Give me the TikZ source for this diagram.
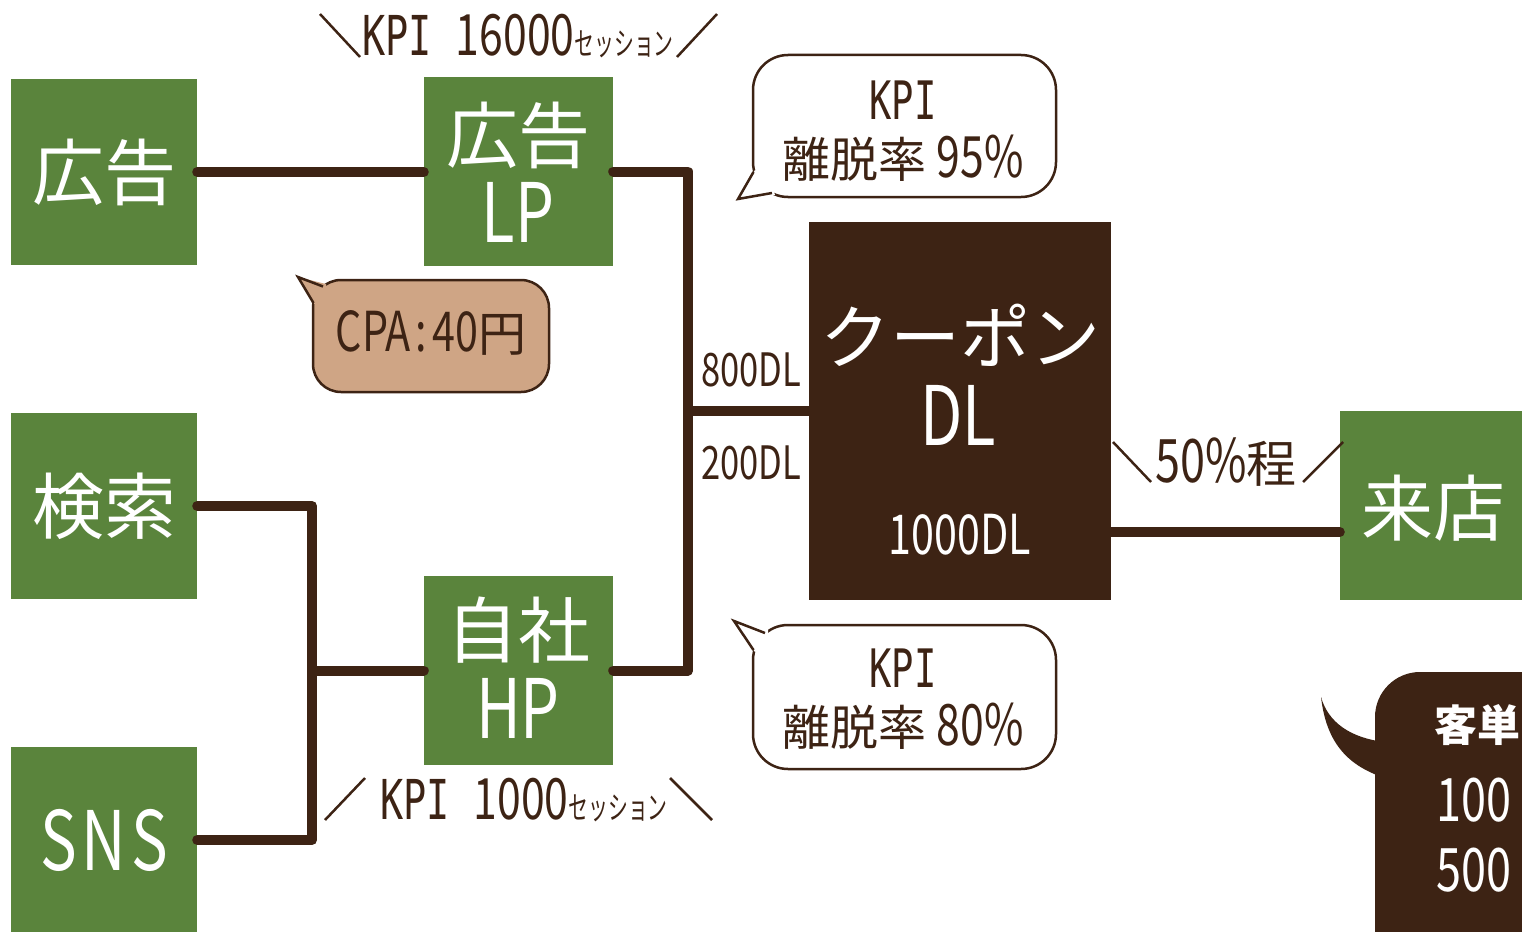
\documentclass[tikz,border=0pt]{standalone}
\usepackage{fontspec}
\setmainfont{Noto Sans CJK JP}
\newfontfamily\jp{Noto Sans CJK JP}
\newfontfamily\cond[FakeStretch=0.75]{Noto Sans CJK JP}
\newfontfamily\condk[FakeStretch=0.62]{Noto Sans CJK JP}
\newfontfamily\kpif[FakeStretch=0.7]{DejaVu Sans Mono}
\definecolor{grn}{HTML}{5A843C}
\definecolor{brn}{HTML}{3D2314}
\definecolor{tan}{HTML}{CFA585}
\newcommand{\fs}[1]{\fontsize{#1}{#1}\selectfont}
\tikzset{
  gbox/.style={fill=grn, inner sep=0pt, minimum width=186pt, minimum height=186pt},
  conn/.style={draw=brn, line width=10pt, line cap=round, line join=round},
  wtxt/.style={text=white, inner sep=0pt, anchor=center},
  btxt/.style={text=brn, inner sep=0pt, anchor=center},
  slash/.style={draw=brn, line width=2.5pt},
  bubble/.style={draw=brn, line width=2.5pt, fill=white, rounded corners=35pt},
}
\begin{document}
\begin{tikzpicture}[x=1pt,y=-1pt]
\useasboundingbox (0,0) rectangle (1522,931);
\clip (0,0) rectangle (1522,931);
% boxes
\node[gbox] (ad) at (104,172) {};
\node[gbox, minimum width=189pt, minimum height=189pt] (lp) at (518.5,171.5) {};
\node[gbox] (search) at (104,506) {};
\node[gbox] (sns) at (104,840) {};
\node[gbox, minimum width=189pt, minimum height=189pt] (hp) at (518.5,670.5) {};
\node[fill=brn, inner sep=0pt, minimum width=302pt, minimum height=378pt] (coupon) at (960,411) {};
\node[gbox, minimum width=182pt, minimum height=189pt] (store) at (1431,505.5) {};
% texts in boxes
\node[wtxt] (t1) at (104,172) {\jp\fs{72}広告};
\node[wtxt] (t2) at (518,135) {\jp\fs{72}広告};
\node[wtxt] (t3) at (518,212) {\cond\fs{82}LP};
\node[wtxt] (t4) at (104,506) {\jp\fs{72}検索};
\node[wtxt] (t5) at (104,840) {\cond\fs{82}S\kern5pt N\kern5pt S};
\node[wtxt] (t6) at (518,630) {\jp\fs{72}自社};
\node[wtxt] (t7) at (518,708) {\cond\fs{82}HP};
\node[wtxt] (t8) at (960,335) {\jp\fs{70}クーポン};
\node[wtxt] (t9) at (958,415) {\cond\fs{82}DL};
\node[wtxt] (t10) at (960,535) {\cond\fs{55}1000DL};
\node[wtxt] (t11) at (1433,508) {\jp\fs{72}来店};
% connectors
\coordinate (j1) at (688,411);
\coordinate (j2) at (312,670.5);
\coordinate (c1) at (1111,532);
\draw[conn] (ad.east) -- (ad.east -| lp.west);
\draw[conn] (lp.east) -- (688,171.5) |- (hp.east);
\draw[conn] (j1) -- (j1 -| coupon.west);
\draw[conn] (search.east) -- (312,506) |- (sns.east);
\draw[conn] (j2) -- (hp.west);
\draw[conn] (c1) -- (c1 -| store.west);
% DL labels
\node[btxt] (l800) at (751,370) {\cond\fs{46}800DL};
\node[btxt] (l200) at (751,463) {\cond\fs{46}200DL};
% top KPI label
\node[btxt, anchor=base] (top) at (518,56) {{\kpif\fs{55}KPI}\hspace{24pt}{\cond\fs{57}16000}{\condk\fs{32}セッション}};
\draw[slash] (320,14) -- (360,57);
\draw[slash] (717,14) -- (677,57);
% bottom KPI label
\node[btxt, anchor=base] (bot) at (524,819) {{\kpif\fs{55}KPI}\hspace{24pt}{\cond\fs{57}1000}{\condk\fs{32}セッション}};
\draw[slash] (325,820) -- (365,778);
\draw[slash] (670,778) -- (712,820);
% 50%
\node[btxt] (fifty) at (1226,462) {\cond\fs{60}50\%{\jp\fs{50}程}};
\draw[slash] (1113,442) -- (1151,482);
\draw[slash] (1303,482) -- (1343,442);
% bubble 95
\draw[bubble] (753,55) rectangle (1056,197);
\fill[white] (755,170) -- (738,199) -- (775,195) -- (770,180) -- cycle;
\draw[draw=brn, line width=2.5pt, line join=miter] (753.5,172) -- (738,199) -- (772,193);
\node[btxt] (b1a) at (903,100) {\kpif\fs{53}KPI};
\node[btxt] (b1b) at (903,158) {\jp\fs{48}離脱率 {\cond\fs{57}95\%}};
% bubble 80
\draw[bubble] (753,625) rectangle (1056,769);
\fill[white] (755,652) -- (734,621) -- (768,627) -- (768,645) -- cycle;
\draw[draw=brn, line width=2.5pt, line join=miter] (753.5,650) -- (734,621) -- (765,633);
\node[btxt] (b2a) at (903,668) {\kpif\fs{53}KPI};
\node[btxt] (b2b) at (903,726) {\jp\fs{48}離脱率 {\cond\fs{57}80\%}};
% CPA bubble
\draw[draw=brn, line width=2.5pt, fill=tan, rounded corners=28pt] (313,280) rectangle (549,392);
\fill[tan] (315,305) -- (298,277) -- (326,284) -- (326,300) -- cycle;
\draw[draw=brn, line width=2.5pt, line join=miter] (313.5,303) -- (298,277) -- (323,286.5);
\node[btxt] (cpa) at (431,333) {\cond\fs{55}CPA\kern5pt:\kern5pt40{\jp\fs{48}円}};
% dark bubble
\fill[brn, rounded corners=45pt] (1375,672) rectangle (1640,1010);
\fill[brn] (1385,742) .. controls (1350,738) and (1328,722) .. (1321,697) .. controls (1326,740) and (1345,765) .. (1385,778) -- cycle;
\node[wtxt, anchor=west] (k1) at (1434,725) {\jp\bfseries\fs{43}客単};
\node[wtxt, anchor=west] (k2) at (1436,800) {\cond\fs{60}100};
\node[wtxt, anchor=west] (k3) at (1436,870) {\cond\fs{60}500};
\end{tikzpicture}
\end{document}
